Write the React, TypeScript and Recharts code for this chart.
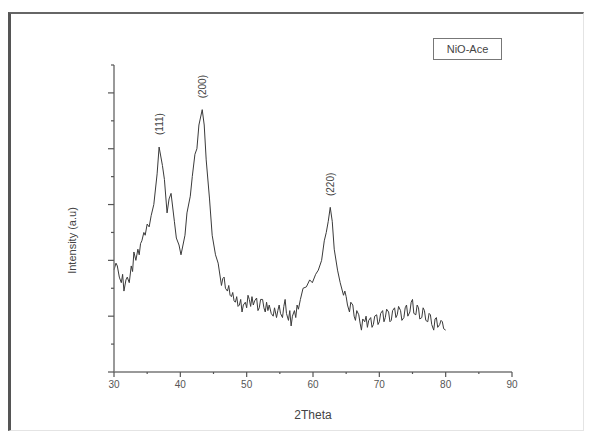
import { Line, LineChart, Legend, ReferenceDot, XAxis, YAxis } from 'recharts';

// 2theta (deg) and intensity, line by line in matching order
const twoTheta = [
  30.0, 30.3, 30.5, 30.8, 31.1, 31.3, 31.5, 31.8, 32.0, 32.3, 32.6, 32.8, 33.0, 33.3, 33.6, 33.8, 34.0, 34.2,
  34.5, 34.7, 35.0, 35.3, 35.6, 36.0, 36.5, 36.8, 37.3, 37.6, 38.0, 38.3, 38.6, 39.1, 39.4, 39.8, 40.1, 40.4,
  40.7, 41.0, 41.5, 41.8, 42.2, 42.5, 42.8, 43.3, 43.6, 43.9, 44.4, 44.8, 45.3, 45.7,
  46.2, 46.4, 46.6, 46.8, 47.1, 47.3, 47.5, 47.7, 47.9, 48.1, 48.3, 48.5, 48.7, 48.9, 49.1, 49.3, 49.5, 49.8,
  50.0, 50.2, 50.4, 50.6, 50.8, 51.0, 51.2, 51.5, 51.7, 51.9, 52.1, 52.4, 52.6, 52.8, 53.0, 53.2, 53.4, 53.7,
  54.0, 54.2, 54.5, 54.7, 54.9, 55.1, 55.4, 55.6, 55.8, 56.0, 56.3, 56.5, 56.7, 56.9, 57.2, 57.4, 57.6, 57.8,
  58.1, 58.5, 59.0, 59.5, 59.9, 60.4, 60.8, 61.3, 61.7, 62.0, 62.3, 62.6, 62.9, 63.2, 63.7, 64.1,
  64.6, 64.8, 65.0, 65.2, 65.5, 65.7, 66.0, 66.2, 66.4, 66.6, 66.9, 67.1, 67.3, 67.5, 67.8, 68.0, 68.2, 68.4,
  68.7, 68.9, 69.1, 69.3, 69.6, 69.8, 70.0, 70.2, 70.5, 70.7, 70.9, 71.1, 71.4, 71.6, 71.8, 72.0, 72.3, 72.5,
  72.7, 72.9, 73.2, 73.4, 73.7, 73.9, 74.1, 74.3, 74.6, 74.8, 75.0, 75.2, 75.5, 75.7, 75.9, 76.1, 76.4, 76.6,
  76.8, 77.0, 77.3, 77.5, 77.7, 77.9, 78.2, 78.4, 78.6, 78.8, 79.1, 79.3, 79.5, 79.7, 80.0,
];

const intensity = [
  3.66, 3.9, 3.8, 3.4, 3.2, 3.5, 2.9, 3.3, 3.4, 3.2, 3.8, 3.6, 4.3, 4.0, 4.4, 4.2, 4.6, 4.7,
  5.0, 4.9, 5.3, 5.2, 5.6, 6.0, 7.1, 8.06, 7.4, 6.9, 5.7, 6.2, 6.4, 5.4, 4.8, 4.55, 4.2, 4.55,
  4.9, 5.7, 6.3, 7.0, 7.8, 8.0, 8.85, 9.4, 8.85, 7.6, 6.2, 4.9, 4.2, 3.9,
  3.1, 3.35, 3.4, 3.0, 2.9, 3.1, 2.75, 2.7, 2.85, 2.55, 2.5, 2.7, 2.35, 2.4, 2.6, 2.15, 2.4, 2.5,
  2.3, 2.75, 2.6, 2.35, 2.7, 2.4, 2.55, 2.65, 2.2, 2.3, 2.6, 2.6, 2.3, 2.15, 2.5, 2.2, 2.4, 2.1,
  2.0, 2.3, 1.95, 2.2, 2.4, 2.1, 1.95, 2.35, 2.6, 2.1, 1.85, 2.2, 1.65, 2.0, 2.2, 1.95, 2.4, 2.25,
  2.6, 3.0, 3.05, 3.3, 3.2, 3.5, 3.65, 4.0, 4.7, 5.0, 5.4, 5.9, 5.4, 4.4, 3.65, 3.2,
  2.75, 2.9, 2.7, 2.4, 2.15, 2.5, 2.4, 2.0, 1.85, 2.2, 2.05, 1.75, 1.5, 1.9, 1.8, 2.0, 1.6, 1.85,
  1.95, 1.6, 1.7, 2.0, 2.05, 1.7, 1.8, 2.1, 2.2, 1.8, 1.95, 2.25, 2.15, 1.8, 1.85, 2.2, 2.3, 1.95,
  2.05, 2.35, 2.2, 1.85, 1.95, 2.3, 2.4, 2.0, 2.15, 2.5, 2.6, 2.1, 2.05, 2.4, 2.3, 1.9, 1.95, 2.3,
  2.2, 1.85, 1.8, 2.1, 2.05, 1.7, 1.5, 1.9, 1.95, 1.6, 1.7, 1.85, 1.8, 1.55, 1.5,
];

const peakLabels = ['(111)', '(200)', '(220)'];
const peakTheta = [36.8, 43.3, 62.6];
const peakIntensity = [8.06, 9.4, 5.9];

const xTicks = [30, 35, 40, 45, 50, 55, 60, 65, 70, 75, 80, 85, 90];
const yTicks = [0, 1, 2, 3, 4, 5, 6, 7, 8, 9, 10, 11];

const seriesName = 'NiO-Ace';

const data = twoTheta.map((t, i) => ({ t, v: intensity[i] }));

const font = '"Liberation Sans", Arial, sans-serif';

function XTick({ x, y, payload }: any) {
  const major = payload.value % 10 === 0;
  return (
    <g>
      <line x1={x} x2={x} y1={y} y2={y + (major ? 5 : 2)} stroke="#555" strokeWidth={1.2} />
      {major ? (
        <text x={x} y={y + 16} textAnchor="middle" fontSize={10} fill="#555" fontFamily={font}>
          {payload.value}
        </text>
      ) : null}
    </g>
  );
}

function YTick({ x, y, payload }: any) {
  const major = payload.value % 2 === 0;
  return <line x1={x} x2={x - (major ? 6 : 3)} y1={y} y2={y} stroke="#555" strokeWidth={1.2} />;
}

function YLabel({ viewBox }: any) {
  const cx = viewBox.x - 2;
  const cy = viewBox.y + viewBox.height / 2 + 22;
  return (
    <text
      x={cx}
      y={cy}
      transform={`rotate(-90, ${cx}, ${cy})`}
      textAnchor="middle"
      dominantBaseline="central"
      fontSize={11}
      fill="#444"
      fontFamily={font}
    >
      Intensity (a.u)
    </text>
  );
}

function PeakLabel({ viewBox, text }: any) {
  const cx = viewBox.x + (viewBox.width || 0) / 2;
  const cy = viewBox.y - 23;
  return (
    <text
      x={cx}
      y={cy}
      transform={`rotate(-90, ${cx}, ${cy})`}
      textAnchor="middle"
      dominantBaseline="central"
      fontSize={10}
      fill="#444"
      fontFamily={font}
    >
      {text}
    </text>
  );
}

function LegendBox({ payload }: any) {
  return (
    <div
      style={{
        border: '1px solid #777',
        width: 67,
        height: 20,
        display: 'flex',
        alignItems: 'center',
        justifyContent: 'center',
        fontSize: 11,
        color: '#444',
        fontFamily: font,
        background: '#fff',
      }}
    >
      {payload && payload[0] ? payload[0].value : seriesName}
    </div>
  );
}

export default function App() {
  return (
    <div style={{ position: 'absolute', left: 0, top: 0, width: 591, height: 438, background: '#fff' }}>
      <div
        style={{
          position: 'absolute',
          left: 8,
          top: 12,
          width: 572,
          height: 416,
          borderLeft: '3px solid #555',
          borderTop: '2px solid #666',
          borderRight: '1px solid #e4e4e4',
          borderBottom: '1px solid #e4e4e4',
        }}
      />
      <div style={{ position: 'absolute', left: 0, top: 0 }}>
        <LineChart width={591} height={438} data={data} margin={{ top: 65, right: 79, bottom: 36, left: 74 }}>
          <XAxis
            dataKey="t"
            type="number"
            domain={[30, 90]}
            ticks={xTicks}
            interval={0}
            stroke="#777"
            strokeWidth={1.5}
            tickLine={false}
            tickSize={0}
            tickMargin={0}
            height={30}
            tick={<XTick />}
            label={{ value: '2Theta', position: 'insideBottom', offset: -17, fontSize: 12, fill: '#444', fontFamily: font }}
          />
          <YAxis
            type="number"
            domain={[0, 11]}
            ticks={yTicks}
            interval={0}
            width={40}
            stroke="#777"
            strokeWidth={1.5}
            tickLine={false}
            tickSize={0}
            tickMargin={0}
            tick={<YTick />}
            label={<YLabel />}
          />
          <Legend
            layout="horizontal"
            verticalAlign="middle"
            align="center"
            wrapperStyle={{ position: 'absolute', left: 433, top: 38, width: 'auto' }}
            content={<LegendBox />}
          />
          <Line
            type="linear"
            dataKey="v"
            name={seriesName}
            stroke="#3a3a3a"
            strokeWidth={1}
            dot={false}
            isAnimationActive={false}
          />
          {peakLabels.map((lbl, i) => (
            <ReferenceDot
              key={lbl}
              x={peakTheta[i]}
              y={peakIntensity[i]}
              r={0}
              fill="none"
              stroke="none"
              label={<PeakLabel text={lbl} />}
            />
          ))}
        </LineChart>
      </div>
    </div>
  );
}
